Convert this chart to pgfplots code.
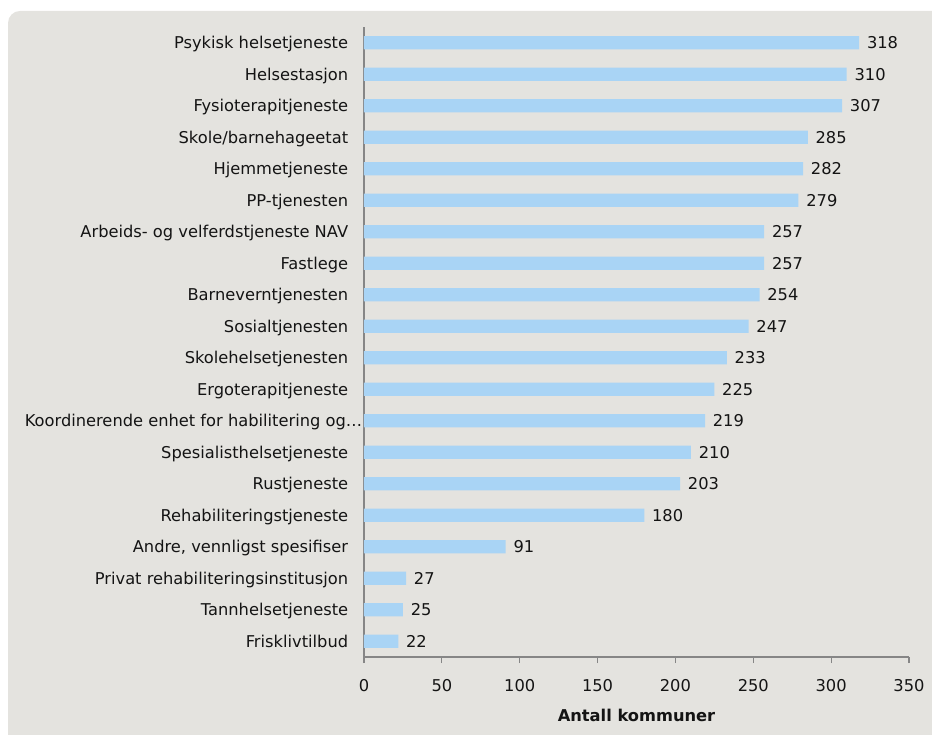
\documentclass[border=0pt]{standalone}
\usepackage{fontspec}
\setmainfont{DejaVu Sans}
\usepackage{pgfplots}
\pgfplotsset{compat=1.18}
\definecolor{bgcol}{RGB}{228,227,223}
\definecolor{barcol}{RGB}{169,212,245}
\definecolor{axcol}{RGB}{134,134,134}
\definecolor{txt}{RGB}{20,20,20}
\begin{document}
\begin{tikzpicture}[font=\fontsize{12.2pt}{14pt}\selectfont]
\useasboundingbox (0,0) rectangle (699pt,551.25pt);
\fill[bgcol, rounded corners=9pt] (6pt,-9pt) rectangle (708pt,543pt);
\begin{axis}[
  at={(273pt,58.5pt)}, anchor=south west,
  scale only axis, width=408.75pt, height=472.5pt,
  xbar, bar width=10pt,
  xmin=0, xmax=350, ymin=-0.5, ymax=19.5,
  y dir=reverse,
  axis x line*=bottom, axis y line*=left,
  axis line style={axcol, line width=0.9pt, -},
  xtick={0,50,...,350},
  tick align=outside, major tick length=4.5pt,
  xtick style={axcol, line width=0.8pt},
  ytick style={draw=none},
  ytick={0,...,19},
  yticklabels={Psykisk helsetjeneste, Helsestasjon, Fysioterapitjeneste, Skole/barnehageetat, Hjemmetjeneste, PP-tjenesten, Arbeids- og velferdstjeneste NAV, Fastlege, Barneverntjenesten, Sosialtjenesten, Skolehelsetjenesten, Ergoterapitjeneste, Koordinerende enhet for habilitering og…\kern-10.5pt, Spesialisthelsetjeneste, Rustjeneste, Rehabiliteringstjeneste, {Andre, vennligst spesifiser}, Privat rehabiliteringsinstitusjon, Tannhelsetjeneste, Frisklivtilbud},
  yticklabel style={anchor=base east, inner sep=0pt, xshift=-7.2pt, yshift=-4.45pt, font=\fontsize{12.2pt}{14pt}\selectfont, text=txt},
  xticklabel style={font=\fontsize{12.2pt}{14pt}\selectfont, text=txt, yshift=-8.7pt},
  /pgf/number format/assume math mode=true,
  xlabel={\textbf{Antall kommuner}},
  xlabel style={at={(axis description cs:0.5,0)}, anchor=center, yshift=-43.5pt, font=\fontsize{12.2pt}{14pt}\selectfont, text=txt},
  nodes near coords,
  point meta=x,
  every node near coord/.append style={anchor=base west, inner sep=0pt, xshift=5.7pt, yshift=-4.45pt, font=\fontsize{12.2pt}{14pt}\selectfont, text=txt, /pgf/number format/assume math mode=true},
  clip=false,
]
\addplot[fill=barcol, draw=none] coordinates {
(318,0) (310,1) (307,2) (285,3) (282,4) (279,5) (257,6) (257,7) (254,8) (247,9)
(233,10) (225,11) (219,12) (210,13) (203,14) (180,15) (91,16) (27,17) (25,18) (22,19)
};
\end{axis}
\end{tikzpicture}
\end{document}
